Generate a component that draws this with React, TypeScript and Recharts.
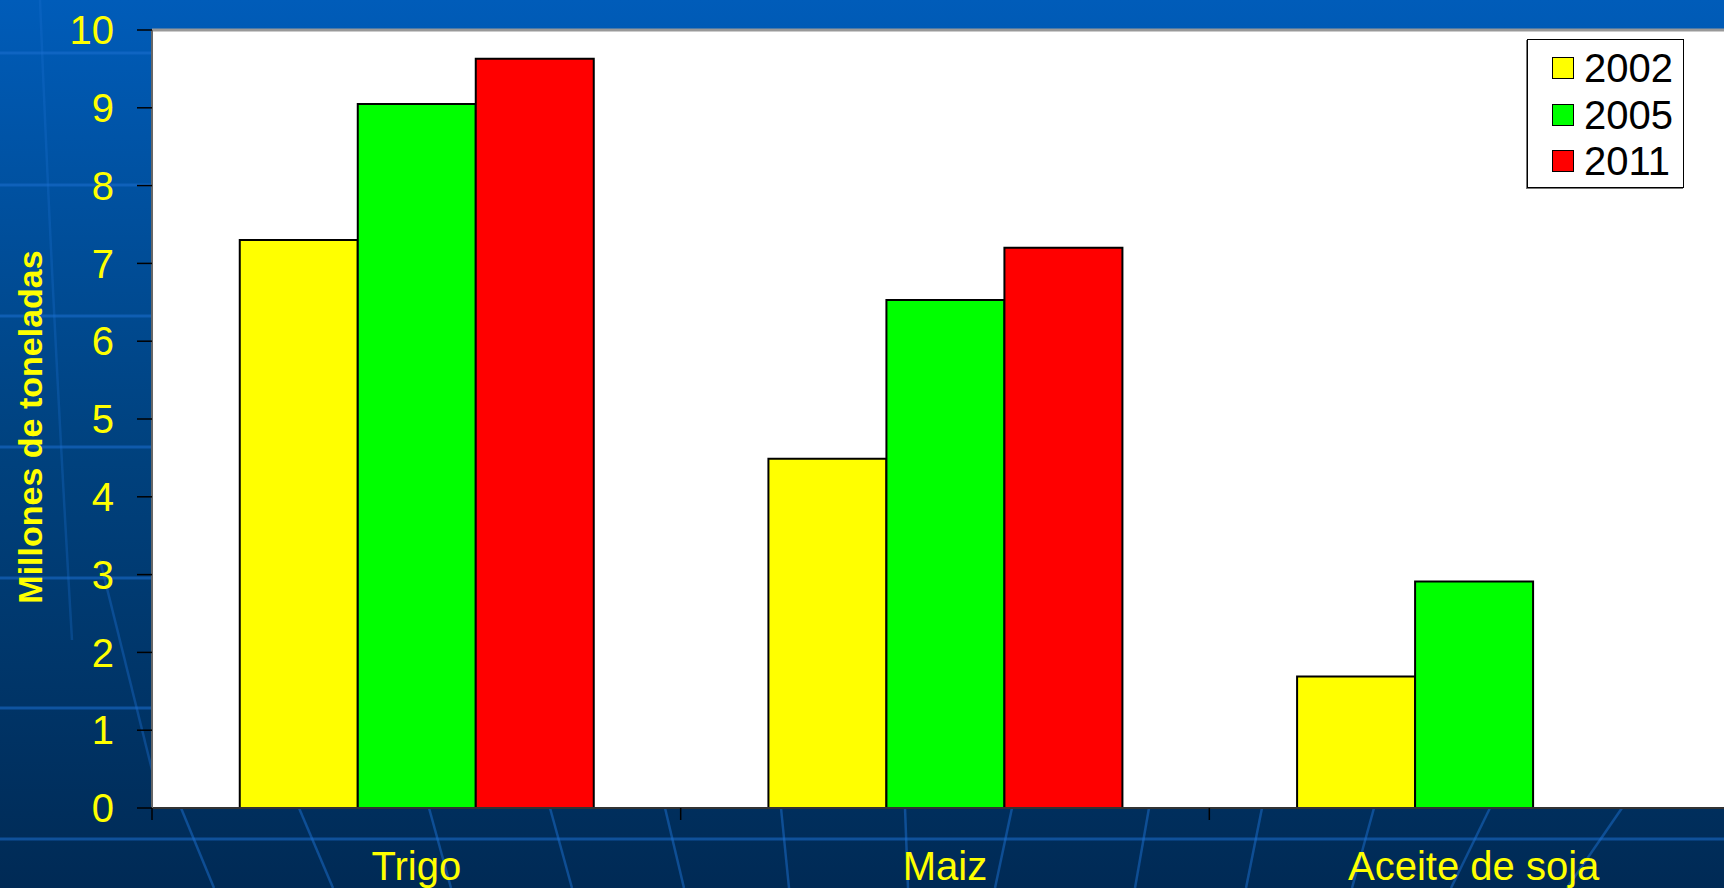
import { Bar, BarChart, CartesianGrid, Legend, ReferenceLine, XAxis, YAxis } from "recharts";

const CATEGORIES = ["Trigo", "Maiz", "Aceite de soja"];
const VALUES_2002 = [7.3, 4.49, 1.69];
const VALUES_2005 = [9.05, 6.53, 2.91];
const VALUES_2011 = [9.63, 7.2, null];
const Y_TICKS = [0, 1, 2, 3, 4, 5, 6, 7, 8, 9, 10];

const SERIES = [
  { key: "y2002", name: "2002", color: "#ffff00" },
  { key: "y2005", name: "2005", color: "#00ff00" },
  { key: "y2011", name: "2011", color: "#ff0000" },
];

const data = CATEGORIES.map((c, i) => ({
  name: c,
  y2002: VALUES_2002[i],
  y2005: VALUES_2005[i],
  y2011: VALUES_2011[i],
}));

// layout (px)
const CHART_W = 1760;
const CHART_H = 888;
const PLOT_LEFT = 152;
const PLOT_RIGHT = 1738;
const PLOT_BOTTOM = 808;
const BAND = (PLOT_RIGHT - PLOT_LEFT) / CATEGORIES.length;
const FONT = '"Liberation Sans", Arial, sans-serif';

const H_LINES = [53, 185, 316, 447, 578, 708, 839];
const SLANTS: [number, number][] = [
  [181, 214], [299, 333], [429, 451], [550, 572], [665, 684], [781, 789], [905, 908],
  [1012, 995], [1149, 1135], [1262, 1246], [1374, 1352], [1490, 1451], [1622, 1567],
];

function CategoryTick(props: any) {
  const { x, payload } = props;
  return (
    <g>
      <line x1={x - BAND / 2} x2={x - BAND / 2} y1={PLOT_BOTTOM} y2={PLOT_BOTTOM + 12} stroke="#000" strokeWidth={1.5} />
      <text x={x} y={880} textAnchor="middle" fill="#ffff00" fontSize={40} fontFamily={FONT}>
        {payload.value}
      </text>
    </g>
  );
}

function LegendBox() {
  return (
    <div
      style={{
        width: 157,
        height: 149,
        boxSizing: "border-box",
        background: "#fff",
        border: "1px solid #000",
        boxShadow: "-1px 1px 0 #777",
        fontFamily: FONT,
        paddingTop: 5,
      }}
    >
      {SERIES.map((s) => (
        <div key={s.key} style={{ display: "flex", alignItems: "center", height: 46.5 }}>
          <span
            style={{
              display: "inline-block",
              width: 20,
              height: 20,
              marginLeft: 24,
              background: s.color,
              border: "1.5px solid #000",
            }}
          />
          <span style={{ marginLeft: 10, fontSize: 40, color: "#000", lineHeight: "40px" }}>{s.name}</span>
        </div>
      ))}
    </div>
  );
}

export default function App() {
  return (
    <div
      style={{
        position: "absolute",
        left: 0,
        top: 0,
        width: 1724,
        height: 888,
        overflow: "hidden",
        background: "linear-gradient(180deg, #005cb9 0%, #00427f 50%, #002a55 100%)",
      }}
    >
      <svg width={1724} height={888} style={{ position: "absolute", left: 0, top: 0 }}>
        {H_LINES.map((y) => (
          <line key={y} x1={0} x2={1724} y1={y} y2={y} stroke="#1c6fd0" strokeOpacity={0.55} strokeWidth={3} />
        ))}
        {SLANTS.map(([a, b]) => (
          <line key={a} x1={a} x2={b} y1={808} y2={888} stroke="#1c6fd0" strokeOpacity={0.5} strokeWidth={2.5} />
        ))}
        <path d="M 40 0 Q 52 300 72 640" stroke="#1c6fd0" strokeOpacity={0.3} strokeWidth={2.5} fill="none" />
        <path d="M 100 560 L 152 770" stroke="#1c6fd0" strokeOpacity={0.4} strokeWidth={2.5} fill="none" />
      </svg>
      <div style={{ position: "absolute", left: 0, top: 0 }}>
        <BarChart
          width={CHART_W}
          height={CHART_H}
          data={data}
          margin={{ top: 30, right: CHART_W - PLOT_RIGHT, bottom: 0, left: 0 }}
          barCategoryGap="16.6%"
          barGap={0}
        >
          <CartesianGrid fill="#ffffff" horizontal={false} vertical={false} />
          <XAxis
            dataKey="name"
            height={CHART_H - PLOT_BOTTOM}
            tickLine={false}
            axisLine={{ stroke: "#333", strokeWidth: 2 }}
            tick={<CategoryTick />}
            interval={0}
          />
          <YAxis
            width={PLOT_LEFT}
            domain={[0, 10]}
            ticks={Y_TICKS}
            interval={0}
            tickSize={15}
            tickMargin={23}
            tickLine={{ stroke: "#000", strokeWidth: 1.5 }}
            axisLine={{ stroke: "#666", strokeWidth: 2 }}
            tick={{ fill: "#ffff00", fontSize: 40, fontFamily: FONT }}
            label={{
              content: () => (
                <text
                  x={42}
                  y={427}
                  transform="rotate(-90 42 427)"
                  textAnchor="middle"
                  fill="#ffff00"
                  fontSize={34}
                  fontWeight="bold"
                  fontFamily={FONT}
                >
                  Millones de toneladas
                </text>
              ),
            }}
          />
          <ReferenceLine y={10} stroke="#999" strokeWidth={3} ifOverflow="extendDomain" />
          {SERIES.map((s) => (
            <Bar
              key={s.key}
              dataKey={s.key}
              name={s.name}
              fill={s.color}
              stroke="#000"
              strokeWidth={2}
              isAnimationActive={false}
            />
          ))}
          <Legend
            layout="horizontal"
            verticalAlign="middle"
            align="center"
            content={() => <LegendBox />}
            wrapperStyle={{ top: 39, left: 1527, width: 157, height: 149 }}
          />
        </BarChart>
      </div>
    </div>
  );
}
